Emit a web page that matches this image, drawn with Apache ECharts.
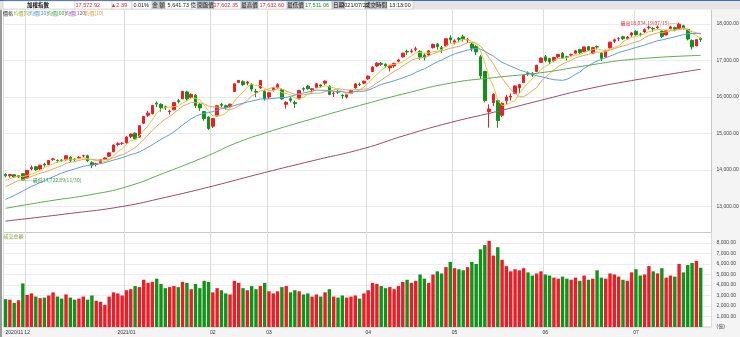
<!DOCTYPE html>
<html><head><meta charset="utf-8">
<script src="https://cdn.jsdelivr.net/npm/echarts/dist/echarts.min.js"></script>
<style>html,body{margin:0;padding:0;background:#fff}#c{width:740px;height:337px}</style>
</head><body><div id="c"></div>
<script>
const dates = [
'2020/11/24','2020/11/25','2020/11/26','2020/11/27','2020/11/30',
'2020/12/01','2020/12/02','2020/12/03','2020/12/04','2020/12/07','2020/12/08','2020/12/09','2020/12/10','2020/12/11','2020/12/14','2020/12/15','2020/12/16','2020/12/17','2020/12/18','2020/12/21','2020/12/22','2020/12/23','2020/12/24','2020/12/25','2020/12/28','2020/12/29','2020/12/30','2020/12/31',
'2021/01/04','2021/01/05','2021/01/06','2021/01/07','2021/01/08','2021/01/11','2021/01/12','2021/01/13','2021/01/14','2021/01/15','2021/01/18','2021/01/19','2021/01/20','2021/01/21','2021/01/22','2021/01/25','2021/01/26','2021/01/27','2021/01/28','2021/01/29',
'2021/02/01','2021/02/02','2021/02/03','2021/02/04','2021/02/05','2021/02/17','2021/02/18','2021/02/19','2021/02/22','2021/02/23','2021/02/24','2021/02/25','2021/02/26',
'2021/03/01','2021/03/02','2021/03/03','2021/03/04','2021/03/05','2021/03/08','2021/03/09','2021/03/10','2021/03/11','2021/03/12','2021/03/15','2021/03/16','2021/03/17','2021/03/18','2021/03/19','2021/03/22','2021/03/23','2021/03/24','2021/03/25','2021/03/26','2021/03/29','2021/03/30','2021/03/31',
'2021/04/01','2021/04/06','2021/04/07','2021/04/08','2021/04/09','2021/04/12','2021/04/13','2021/04/14','2021/04/15','2021/04/16','2021/04/19','2021/04/20','2021/04/21','2021/04/22','2021/04/23','2021/04/26','2021/04/27','2021/04/28','2021/04/29','2021/04/30',
'2021/05/03','2021/05/04','2021/05/05','2021/05/06','2021/05/07','2021/05/10','2021/05/11','2021/05/12','2021/05/13','2021/05/14','2021/05/17','2021/05/18','2021/05/19','2021/05/20','2021/05/21','2021/05/24','2021/05/25','2021/05/26','2021/05/27','2021/05/28','2021/05/31',
'2021/06/01','2021/06/02','2021/06/03','2021/06/04','2021/06/07','2021/06/08','2021/06/09','2021/06/10','2021/06/11','2021/06/15','2021/06/16','2021/06/17','2021/06/18','2021/06/21','2021/06/22','2021/06/23','2021/06/24','2021/06/25','2021/06/28','2021/06/29','2021/06/30',
'2021/07/01','2021/07/02','2021/07/05','2021/07/06','2021/07/07','2021/07/08','2021/07/09','2021/07/12','2021/07/13','2021/07/14','2021/07/15','2021/07/16','2021/07/19','2021/07/20','2021/07/21','2021/07/22'
];
const opens = [
13880,13845,13870,13810,13900,
13780,14030,14090,14030,14160,14150,14290,14260,14270,14280,14350,14300,14330,14390,14390,14200,14150,14200,14300,14380,14500,14700,14730,
14750,14920,15010,14900,15280,15500,15550,15830,15800,15730,15600,15650,15900,15950,16140,15990,16050,15800,15600,15450,
15200,15480,15800,15760,15750,16150,16400,16420,16380,16350,16150,16250,16150,
16000,16200,16250,16200,15800,15950,15850,15950,16230,16300,16200,16260,16330,16380,16300,16100,16150,16050,16000,16100,16250,16350,16380,
16500,16700,16850,16920,16900,16800,16850,16980,17100,17250,17250,17300,17250,17150,17150,17350,17450,17350,17400,17620,
17500,17600,17650,17560,17450,17380,17100,16700,15600,15850,15900,15500,15900,16000,16100,16250,16400,16650,16650,16700,16950,
17100,17050,17000,17100,17200,17100,17150,17200,17300,17250,17380,17200,17380,17200,17100,17350,17530,17600,17650,17600,17700,
17800,17720,17780,17900,17880,17900,17800,17700,17880,17900,17880,17950,17850,17550,17400,17602.35
];
const closes = [
13840,13876,13808,13846,13722.89,
13990,14070,14007,14132,14135,14261,14304,14257,14262,14390,14270,14280,14347,14390,14256,14137,14169,14280,14330,14470,14687,14720,14733,
14902,14983,14848,15214,15464,15557,15770,15806,15708,15707,15616,15846,15877,16154,15947,16070,15760,15702,15410,15138,
15410,15760,15772,15707,15802,16362,16452,16341,16410,16217,16135,16452,15953,
16114,16233,16338,15947,15856,15909,15820,16177,16216,16229,16226,16362,16301,16433,16070,16102,16132,16032,16062,16177,16360,16342,16431,
16571,16824,16925,16894,16854,16869,16921,17014,17202,17233,17261,17322,17095,17077,17264,17443,17383,17310,17595,17567,
17538,17579,17595,17583,17339,17235,16583,15902,15670,16074,15354,15827,15998,16023,16302,16338,16596,16643,16601,16871,17068,
16999,16965,17083,17165,17076,17083,17159,17265,17213,17371,17285,17359,17369,17062,17278,17502,17567,17603,17598,17641,17755,
17710,17719,17847,17913,17866,17919,17661,17814,17920,17858,17996,17890,17588,17374,17570.53,17572.92
];
const lows = [
13800,13790,13790,13780,13722.89,
13760,13990,13970,14000,14090,14140,14250,14200,14220,14260,14220,14240,14300,14340,14220,14050,14100,14180,14280,14360,14490,14650,14680,
14720,14870,14820,14890,15270,15450,15520,15720,15600,15640,15520,15640,15820,15940,15900,15950,15700,15620,15350,15100,
15150,15470,15720,15650,15720,16150,16380,16300,16320,16150,16000,16220,15900,
15950,16150,16230,15920,15680,15850,15700,15940,16150,16200,16100,16240,16250,16330,16050,16000,16080,15950,15960,16090,16230,16300,16350,
16470,16680,16820,16850,16800,16700,16800,16950,17080,17150,17200,17250,17020,17000,17130,17330,17300,17200,17380,17480,
17440,17500,17520,17480,17250,17150,16500,15850,15162,15750,15160,15450,15800,15900,16080,16100,16380,16580,16550,16680,16930,
16950,16900,16950,17050,17040,17000,17100,17180,17180,17230,17260,17180,17300,16980,17080,17330,17480,17530,17560,17560,17650,
17680,17660,17760,17850,17780,17850,17620,17690,17850,17800,17840,17850,17550,17300,17390,17511.06
];
const highs = [
13905,13890,13880,13860,13910,
13995,14120,14110,14140,14200,14270,14330,14290,14300,14400,14380,14320,14380,14420,14420,14240,14200,14290,14350,14480,14690,14760,14760,
14930,15000,15030,15220,15470,15620,15780,15880,15830,15760,15650,15860,15950,16160,16170,16100,16080,15830,15620,15470,
15420,15770,15840,15790,15820,16370,16470,16460,16440,16380,16220,16470,16200,
16140,16270,16380,16230,15880,16000,15900,16180,16270,16330,16250,16380,16350,16460,16320,16150,16200,16080,16090,16200,16370,16400,16450,
16590,16840,16960,16960,16920,16880,16940,17050,17210,17300,17320,17380,17280,17200,17280,17460,17480,17400,17610,17690,
17580,17640,17710,17620,17480,17420,17150,16720,15800,16100,15950,15850,16060,16100,16320,16360,16610,16700,16680,16880,17080,
17150,17080,17100,17180,17230,17130,17190,17290,17320,17380,17400,17370,17410,17230,17290,17510,17600,17640,17680,17670,17780,
17830,17760,17880,17960,17920,17960,17830,17830,17950,17930,18034.19,17980,17870,17580,17590,17632.6
];
const volumes = [
2650,2600,2300,2550,4150,
3050,3200,2900,2750,2800,3000,3300,2900,2700,3100,2800,2600,2700,2900,2600,3000,2500,2400,2100,2900,3300,3200,3000,
3500,3600,3900,3800,4500,4200,4300,4600,4100,3700,3800,3900,3800,4300,4200,3600,4100,3700,4400,4300,
3300,3700,3500,3200,3100,4400,4200,3700,3500,3900,3600,3900,4200,
3400,3200,3400,3800,3900,3300,3500,3400,3100,3200,2900,3100,2900,3300,3600,2900,2800,3000,2800,2900,3000,2700,3200,
3500,4200,4100,3900,3700,3800,3600,3900,4300,4500,4200,4400,5000,4600,4200,5000,5300,5100,5700,6200,
5600,5500,5400,5700,6200,6000,7400,7800,8200,6800,7600,6400,5800,5300,5500,5400,5600,5200,4900,5100,5300,
5000,4900,4700,4600,4800,4600,4500,4700,4400,4900,4500,4600,5400,4700,4600,5100,5000,4800,4500,4400,5200,
5500,4900,5000,5800,5300,5100,5600,4700,4900,4800,6000,5200,5900,6100,6300,5641.73
];
// closes of the 19 sessions before the first visible day (for moving averages)
const priorCloses = [12868,12711,12546,12554,12739,12803,12980,13013,13129,13180,13285,13233,13262,13551,13528,13607,13559,13716,13807];
// long moving averages at sample days
const ma60Points = [
['2020/11/24',12950],['2020/12/08',13150],['2020/12/22',13330],['2021/01/04',13540],['2021/01/15',13930],['2021/01/29',14400],
['2021/02/17',14720],['2021/02/26',15010],['2021/03/15',15400],['2021/03/31',15800],['2021/04/15',16080],['2021/04/30',16380],
['2021/05/14',16530],['2021/05/31',16665],['2021/06/15',16850],['2021/06/30',17030],['2021/07/22',17140]
];
const ma120Points = [
['2020/11/24',12600],['2020/12/15',12810],['2020/12/31',13000],['2021/01/15',13250],['2021/01/29',13530],['2021/02/26',13930],
['2021/03/15',14250],['2021/03/31',14590],['2021/04/15',14930],['2021/04/30',15300],['2021/05/14',15580],['2021/05/31',15910],
['2021/06/15',16200],['2021/06/30',16450],['2021/07/22',16760]
];
const priceTicks = {min: 12000, max: 18400, step: 1000};
const volTicks = {min: 0, max: 9000, step: 1000};
const highMark = {date: '2021/07/15', value: 18034.19};
const lowMark = {date: '2020/11/30', value: 13722.89};

const RED = '#ee1c24', GREEN = '#12921a';
const FONT = 'Liberation Sans, Noto Sans CJK TC, sans-serif';
const CJK = 'Noto Sans CJK TC, sans-serif';
function fmt(v){ return v.toFixed(2).replace(/\B(?=(\d{3})+(?!\d))/g, ','); }

const cats = dates.concat([' ', '  ']);
const allCloses = priorCloses.concat(closes);
function ma(n){
  return closes.map((c,i)=>{
    const j = i + priorCloses.length;
    if (j - n + 1 < 0) return null;
    let s = 0; for (let k=j-n+1;k<=j;k++) s += allCloses[k];
    return +(s/n).toFixed(2);
  });
}
const candle = dates.map((d,i)=>[opens[i], closes[i], lows[i], highs[i]]);
const volData = volumes.map((v,i)=>({value:v, itemStyle:{color: closes[i] >= opens[i] ? RED : GREEN}}));
const monthStart = new Set();
dates.forEach((d,i)=>{ if (i===0 || d.slice(0,7)!==dates[i-1].slice(0,7)) monthStart.add(i); });
function monthLabel(v, i){
  if (i===0) return v.slice(0,7);
  if (v.slice(5,7)==='01') return v.slice(0,7);
  return v.slice(5,7);
}
const last = dates.length-1;
const chg = closes[last]-closes[last-1];
const pct = chg/closes[last-1]*100;

const chart = echarts.init(document.getElementById('c'), null, {renderer:'canvas'});

const G = {left: 3.4, right: 28.5};
const header = [];
function cell(x, w, fill){ header.push({type:'rect', z:20, shape:{x:x, y:1, width:w, height:8}, style:{fill:fill, stroke:'#b9b9b9', lineWidth:0.5}}); }
function htext(x, t, color, align, bold){ header.push({type:'text', z:21, x:x, y:5.2, style:{text:t, fill:color, font:(bold?'bold ':'')+'5.5px '+FONT, textAlign:align||'center', textVerticalAlign:'middle'}}); }
header.push({type:'rect', z:19, shape:{x:0, y:0, width:740, height:9.5}, style:{fill:'#e4e4e4'}});
header.push({type:'rect', z:19, shape:{x:0, y:0, width:740, height:1}, style:{fill:'#3d6aa8'}});
cell(3, 72, '#fff'); htext(38, '加權指數', '#111', 'center', true);
cell(75, 37, '#fff'); htext(100, fmt(closes[last]), RED, 'right');
cell(112, 20, '#fff'); htext(127, '▲' + chg.toFixed(2), RED, 'right');
cell(132, 20, '#fff'); htext(149, pct.toFixed(2)+'%', '#222', 'right');
cell(152, 13, '#c9c9c9'); htext(158.5, '金 額', '#111');
cell(165, 32, '#fff'); htext(196, fmt(volumes[last])+' 億', '#222', 'right');
cell(197, 17, '#c9c9c9'); htext(205.5, '開盤價', '#111');
cell(214, 27, '#fff'); htext(238, fmt(opens[last]), RED, 'right');
cell(241, 17, '#c9c9c9'); htext(249.5, '最高價', '#111');
cell(258, 29, '#fff'); htext(284, fmt(highs[last]), RED, 'right');
cell(287, 17, '#c9c9c9'); htext(295.5, '最低價', '#111');
cell(304, 28, '#fff'); htext(329, fmt(lows[last]), GREEN, 'right');
cell(332, 13, '#c9c9c9'); htext(338.5, '日期', '#111');
cell(345, 20, '#fff'); htext(355, dates[last], '#222');
cell(365, 22, '#c9c9c9'); htext(376, '成交時間', '#111');
cell(387, 26, '#fff'); htext(400, '13:13:00', '#222');

const legendItems = [['價格','#222',3],['均價[5]','#9cae2c',13.5],['均價[20]','#4a8fd6',29],['均價[60]','#3fa346',47],['均價[120]','#9a4d9e',65],['均價[10]','#eaa23a',84.5]];
const legendG = legendItems.map(([t,c,x])=>({type:'text', z:21, x:x, y:13.5, style:{text:t, fill:c, font:'5px '+CJK, textVerticalAlign:'middle'}}));

const graphics = [
  {type:'rect', z:-5, shape:{x:740-G.right, y:9.5, width:G.right, height:328}, style:{fill:'#f4f4f4'}},
  {type:'rect', z:-5, shape:{x:0, y:327.5, width:740, height:10}, style:{fill:'#f4f4f4'}},
  {type:'rect', z:-5, shape:{x:0, y:9.5, width:2, height:328}, style:{fill:'#9a9a9a'}},
  {type:'line', z:5, shape:{x1:740-G.right, y1:9.5, x2:740-G.right, y2:232.5}, style:{stroke:'#c8c8c8', lineWidth:1}},
  {type:'text', z:21, x:3.5, y:236.5, style:{text:'成交金額', fill:'#7a9a22', font:'5px '+CJK, textVerticalAlign:'middle'}},
].concat(header, legendG);

const priceSplitColors = [];
for (let v = priceTicks.min; v <= priceTicks.max; v += priceTicks.step) priceSplitColors.push(v===priceTicks.min ? 'rgba(0,0,0,0)' : '#ececec');
priceSplitColors.push('rgba(0,0,0,0)');
const volSplitColors = ['rgba(0,0,0,0)','#ededed','#ededed','#ededed','#ededed','#ededed','#ededed','#ededed','#ededed','rgba(0,0,0,0)'];

const xBase = {type:'category', data:cats, boundaryGap:true, axisLine:{show:false}, axisTick:{show:false},
  splitLine:{show:true, interval:(i)=>monthStart.has(i), lineStyle:{color:'#dcdcdc', width:1}}};

const option = {
  animation:false,
  backgroundColor:'#ffffff',
  textStyle:{fontFamily:FONT},
  graphic: graphics,
  grid:[
    {left:G.left, right:G.right, top:9.4, height:233.6, outerBoundsMode:'none', containLabel:false},
    {left:G.left, right:G.right, top:232.5, height:94.5, outerBoundsMode:'none', containLabel:false, show:true, borderColor:'#c8c8c8', borderWidth:1, backgroundColor:'transparent'}
  ],
  xAxis:[
    Object.assign({}, xBase, {gridIndex:0, axisLabel:{show:false}}),
    Object.assign({}, xBase, {gridIndex:1, axisLabel:{show:true, interval:(i)=>monthStart.has(i), formatter:monthLabel, fontSize:5, color:'#333', margin:3, alignMinLabel:'left', fontFamily:FONT}})
  ],
  yAxis:[
    {gridIndex:0, type:'value', position:'right', min:priceTicks.min, max:priceTicks.max, interval:priceTicks.step, scale:false,
     axisLine:{show:false}, axisTick:{show:false},
     axisLabel:{show:true, showMinLabel:false, showMaxLabel:false, formatter:(v)=>fmt(v), fontSize:5, color:'#444', margin:5, fontFamily:FONT},
     splitLine:{show:true, lineStyle:{color:priceSplitColors, width:1}}},
    {gridIndex:1, type:'value', position:'right', min:volTicks.min, max:volTicks.max, interval:volTicks.step,
     axisLine:{show:false}, axisTick:{show:false},
     axisLabel:{show:true, showMaxLabel:false, formatter:(v)=> v===0 ? '(億)' : fmt(v), fontSize:5, color:'#444', margin:5, fontFamily:FONT},
     splitLine:{show:true, lineStyle:{color:volSplitColors, width:1}}}
  ],
  series:[
    {type:'candlestick', name:'價格', xAxisIndex:0, yAxisIndex:0, data:candle, barWidth:3,
     itemStyle:{color:RED, color0:GREEN, borderColor:RED, borderColor0:GREEN, borderWidth:1},
     markPoint:{silent:true, symbol:'circle', symbolSize:1, itemStyle:{color:'rgba(0,0,0,0)'},
       data:[
        {coord:[highMark.date, highMark.value], label:{show:true, position:'left', distance:1, formatter:'最高'+fmt(highMark.value)+'('+highMark.date.slice(5)+')——', color:'#e0303a', fontSize:5, fontFamily:CJK}},
        {coord:[lowMark.date, lowMark.value], label:{show:true, position:'right', distance:1, formatter:'——最低'+fmt(lowMark.value)+'('+lowMark.date.slice(5)+')', color:'#3a9a3a', fontSize:5, fontFamily:CJK}}
       ]},
     markLine:{silent:true, symbol:['none','none'], lineStyle:{opacity:0, width:0},
       data:[{yAxis: closes[last]}],
       label:{show:true, position:'end', distance:2, formatter: fmt(closes[last])+'\n'+chg.toFixed(2), color:'#fff', backgroundColor:'#1fd21f', fontSize:4.5, lineHeight:4.8, padding:[1,2,1,2], fontFamily:FONT}}
    },
    {type:'line', name:'均價[5]', data:ma(5), symbol:'none', lineStyle:{width:1, color:'#e2c93a'}, z:3},
    {type:'line', name:'均價[10]', data:ma(10), symbol:'none', lineStyle:{width:1, color:'#f2a25c'}, z:3},
    {type:'line', name:'均價[20]', data:ma(20), symbol:'none', lineStyle:{width:1, color:'#5a9fdc'}, z:3},
    {type:'line', name:'均價[60]', data:ma60Points, symbol:'none', smooth:true, connectNulls:true, lineStyle:{width:1, color:'#5cb04e'}, z:3},
    {type:'line', name:'均價[120]', data:ma120Points, symbol:'none', smooth:true, connectNulls:true, lineStyle:{width:1, color:'#a3466e'}, z:3},
    {type:'bar', name:'成交金額', xAxisIndex:1, yAxisIndex:1, data:volData, barWidth:3.4}
  ]
};
chart.setOption(option);
</script></body></html>
